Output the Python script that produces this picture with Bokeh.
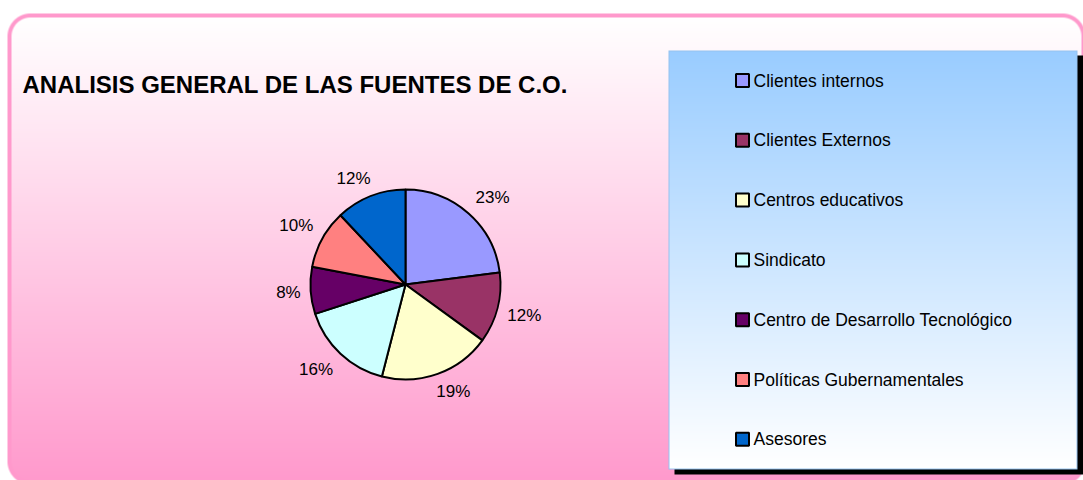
import numpy as np
from bokeh.plotting import figure
from bokeh.models import Range1d, ColumnDataSource
from bokeh.core.properties import value
from bokeh.embed import file_html
from bokeh.resources import INLINE

# ---------------- data ----------------
title_text = "ANALISIS GENERAL DE LAS FUENTES DE C.O."
categories = ["Clientes internos", "Clientes Externos", "Centros educativos", "Sindicato",
              "Centro de Desarrollo Tecnológico", "Políticas Gubernamentales", "Asesores"]
percentages = [23, 12, 19, 16, 8, 10, 12]
colors = ["#9999FF", "#993366", "#FFFFCC", "#CCFFFF", "#660066", "#FF8080", "#0066CC"]

# ---------------- layout ----------------
W, H = 1083, 480
OX, OY = 0, 0
FONT = "'Liberation Sans', Arial, sans-serif"

p = figure(width=W, height=H, x_range=Range1d(OX, OX + W), y_range=Range1d(-(OY + H), -OY),
           output_backend="svg", toolbar_location=None,
           x_axis_location=None, y_axis_location=None,
           min_border=0, min_border_left=0, min_border_right=0,
           min_border_top=0, min_border_bottom=0)
p.grid.visible = False
p.outline_line_color = None
p.background_fill_color = "white"
p.border_fill_color = "white"

# ---------------- background (chart area + legend box) ----------------
xs = OX + np.arange(W) + 0.5
ys = OY + np.arange(H) + 0.5
X, Y = np.meshgrid(xs, ys)


def sdf(X, Y, x0, y0, x1, y1, r):
    cx, cy = (x0 + x1) / 2, (y0 + y1) / 2
    hx, hy = (x1 - x0) / 2 - r, (y1 - y0) / 2 - r
    qx, qy = np.abs(X - cx) - hx, np.abs(Y - cy) - hy
    return np.hypot(np.maximum(qx, 0), np.maximum(qy, 0)) + np.minimum(np.maximum(qx, qy), 0) - r


pink = np.array([255, 153, 204.0])
d = sdf(X, Y, 7, 13, 1085, 484, 23)
bw = 4
t = np.clip((Y - 17) / (482 - 17), 0, 1)[..., None]
grad = (1 - t) * np.array([255, 255, 255.0]) + t * pink
ci = np.clip(0.5 - (d + bw), 0, 1)[..., None]
col = ci * grad + (1 - ci) * pink
a = np.clip(0.5 - d, 0, 1)[..., None]
img = a * col + (1 - a) * 255.0

# legend shadow
sh = (X >= 674) & (X < 1083) & (Y >= 55) & (Y < 474)
img[sh] = 0
# legend box with gradient
box = (X >= 668) & (X < 1077) & (Y >= 50) & (Y < 469)
tl = np.clip((Y - 50) / (469 - 50), 0, 1)[..., None]
lg = (1 - tl) * np.array([153, 204, 255.0]) + tl * 255.0
img[box] = lg[box]
edge = box & ((X < 669) | (X >= 1076) | (Y < 51) | (Y >= 468))
img[edge] = [150, 195, 240]

img = np.clip(np.round(img), 0, 255).astype(np.uint32)
rgba = (255 << 24) | (img[..., 2] << 16) | (img[..., 1] << 8) | img[..., 0]
rgba = rgba[::-1].copy()
p.image_rgba(image=[rgba], x=OX, y=-(OY + H), dw=W, dh=H)

# ---------------- title ----------------
p.text(x=[22], y=[-84], text=[title_text], text_font=value(FONT), text_font_style="bold",
       text_font_size="24px", text_color="black", text_baseline="middle", text_align="left")

# ---------------- pie ----------------
cx, cy, R = 405, -284, 95
vals = np.array(percentages, dtype=float)
frac = vals / vals.sum()
cum = np.concatenate([[0], np.cumsum(frac)])
start = np.pi / 2 - 2 * np.pi * cum[:-1]
end = np.pi / 2 - 2 * np.pi * cum[1:]
src = ColumnDataSource(dict(start=start, end=end, color=colors, cat=categories))
p.wedge(x=cx, y=cy, radius=R, start_angle="start", end_angle="end", direction="clock",
        fill_color="color", line_color="black", line_width=2, source=src)

# labels outside the pie (label box anchored at a point just outside the rim)
mid = np.pi / 2 - 2 * np.pi * (cum[:-1] + cum[1:]) / 2
labels = [f"{v:.0f}%" for v in vals]
fs = 17
tw = np.array([fs * (0.556 * (len(s) - 1) + 0.889) for s in labels])
hw = tw / 2 + 2
hh = 0.72 * fs / 2 + 4
gap = 8
c, s = np.cos(mid), np.sin(mid)
lx = cx + (R + gap) * c + np.clip(2 * c, -1, 1) * hw
ly = cy + (R + gap) * s + np.clip(2 * s, -1, 1) * hh
p.text(x=lx, y=ly, text=labels, text_font=value(FONT), text_font_size=f"{fs}px",
       text_color="black", text_align="center", text_baseline="middle")

# ---------------- legend ----------------
n = len(categories)
ly0, lstep = -80, -59.8
leg_y = [ly0 + lstep * i for i in range(n)]
p.rect(x=[742] * n, y=leg_y, width=13, height=13, width_units="screen", height_units="screen",
       fill_color=colors, line_color="black", line_width=2)
p.text(x=[753] * n, y=leg_y, text=categories, text_font=value(FONT), text_font_size="17.5px",
       text_color="black", text_align="left", text_baseline="middle")

open("out.html", "w").write(file_html(p, INLINE))
